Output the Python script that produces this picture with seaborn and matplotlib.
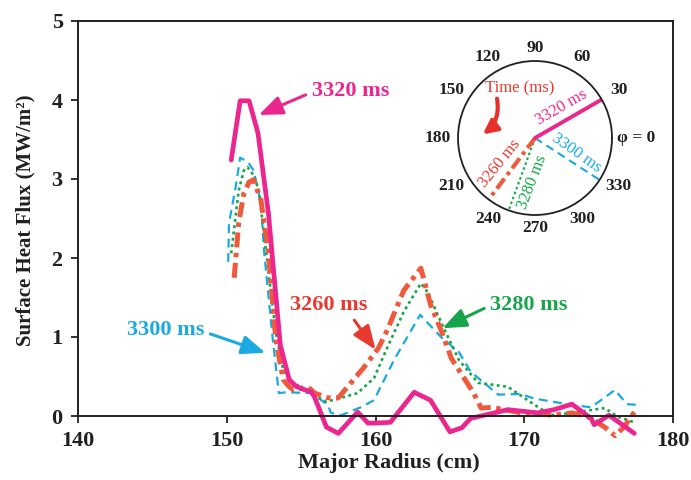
# Surface heat flux vs major radius, four time slices + toroidal-angle inset
import numpy as np
import pandas as pd
import matplotlib
matplotlib.use('Agg')
import matplotlib.pyplot as plt
import seaborn as sns

sns.set_theme(style='ticks')
plt.rcParams['font.family'] = ['Liberation Serif', 'DejaVu Serif']

# 3320 ms (solid magenta)
r_3320 = [150.3, 150.9, 151.5, 152.1, 152.8, 153.6, 154.2, 154.7, 155.7, 155.9, 156.7, 157.5,
          158.8, 159.5, 159.9, 161.0, 162.6, 163.7, 165.0, 165.8, 166.4, 168.9, 170.9, 172.0,
          173.2, 174.5, 174.7, 175.7, 177.4]
q_3320 = [3.24, 3.99, 3.99, 3.58, 2.57, 0.90, 0.46, 0.37, 0.30, 0.24, -0.14, -0.22,
          0.05, -0.09, -0.09, -0.08, 0.30, 0.20, -0.20, -0.15, -0.03, 0.08, 0.04, 0.08,
          0.15, -0.03, -0.11, 0.01, -0.22]

# 3300 ms (dashed blue)
r_3300 = [150.1, 150.15, 150.6, 150.9, 151.4, 151.8, 152.3, 152.5, 153.1, 153.5, 154.0, 155.7,
          156.8, 157.0, 157.7, 159.0, 159.9, 161.25, 163.0, 164.4, 165.6, 166.4, 168.25, 169.7,
          170.7, 173.2, 174.5, 176.1, 176.9, 177.7]
q_3300 = [1.95, 2.44, 2.90, 3.27, 3.22, 3.11, 2.70, 2.10, 0.96, 0.29, 0.30, 0.29,
          0.14, 0.04, 0.01, 0.11, 0.20, 0.71, 1.28, 1.00, 0.81, 0.56, 0.27, 0.28,
          0.22, 0.14, 0.11, 0.33, 0.15, 0.14]

# 3280 ms (dotted green)
r_3280 = [150.3, 150.8, 151.15, 151.4, 151.8, 152.15, 153.3, 153.8, 154.4, 155.8, 156.7, 157.7,
          158.8, 159.9, 160.8, 161.9, 163.05, 163.5, 164.55, 165.6, 166.9, 168.9, 170.7, 171.8,
          173.2, 175.4, 176.3, 177.4]
q_3280 = [2.06, 2.85, 3.11, 3.15, 3.05, 2.86, 1.05, 0.58, 0.43, 0.27, 0.18, 0.23,
          0.29, 0.48, 0.87, 1.32, 1.68, 1.57, 1.13, 0.71, 0.42, 0.37, 0.14, 0.01,
          0.04, 0.10, -0.01, -0.08]

# 3260 ms (dash-dot red)
r_3260 = [150.5, 150.8, 151.15, 151.5, 151.8, 152.3, 152.8, 153.3, 153.8, 154.2, 154.5, 155.45,
          155.9, 156.8, 157.5, 158.35, 159.2, 160.2, 160.8, 161.9, 163.05, 163.7, 164.4, 165.1,
          165.75, 166.6, 167.1, 167.8, 169.8, 172.0, 173.2, 174.3, 175.4, 176.1, 176.7, 177.4]
q_3260 = [1.75, 2.44, 2.82, 2.96, 2.99, 2.73, 2.06, 0.96, 0.46, 0.37, 0.33, 0.37,
          0.29, 0.23, 0.23, 0.42, 0.61, 0.86, 1.09, 1.59, 1.87, 1.41, 1.09, 0.73,
          0.54, 0.29, 0.10, 0.11, 0.04, 0.01, 0.04, -0.01, -0.14, -0.25, -0.14, 0.05]

x_ticks = [140, 150, 160, 170, 180]
y_ticks = [0, 1, 2, 3, 4, 5]

# inset: toroidal angle of each time slice (deg)
phi_labels = [0, 30, 60, 90, 120, 150, 180, 210, 240, 270, 300, 330]
phi_3320, phi_3300, phi_3280, phi_3260 = 30, 327, 250, 233

MAGENTA = '#ec268f'
BLUE = '#1ba9e1'
GREEN = '#17a54b'
RED = '#ef5a3c'
RED_TXT = '#e8392f'
INK = '#231f20'

fig = plt.figure(figsize=(6.91, 4.80), dpi=100)
ax = fig.add_axes([78 / 691, 64 / 480, 595 / 691, 395 / 480])

sns.lineplot(x=r_3300, y=q_3300, ax=ax, sort=False, estimator=None, color=BLUE, lw=1.6,
             linestyle=(0, (4, 2.5)), clip_on=False)
sns.lineplot(x=r_3280, y=q_3280, ax=ax, sort=False, estimator=None, color=GREEN, lw=1.9,
             linestyle=(0, (1.1, 1.3)), clip_on=False)
sns.lineplot(x=r_3260, y=q_3260, ax=ax, sort=False, estimator=None, color=RED, lw=3.6,
             linestyle=(0, (3, 1.1, 0.9, 1.1)), clip_on=False)
sns.lineplot(x=r_3320, y=q_3320, ax=ax, sort=False, estimator=None, color=MAGENTA, lw=3.4,
             clip_on=False)

ax.set_xlim(140, 180)
ax.set_ylim(0, 5)
ax.set_xticks(x_ticks)
ax.set_yticks(y_ticks)
ax.tick_params(direction='out', length=5, width=1.3, labelsize=16, pad=6, colors=INK)
plt.setp(ax.get_xticklabels() + ax.get_yticklabels(), fontweight='bold')
for s in ax.spines.values():
    s.set_linewidth(1.4)
    s.set_color(INK)

ax.set_xlabel('Major Radius (cm)', fontsize=16, fontweight='bold', color=INK, va='center')
ax.xaxis.set_label_coords(0.522, -0.119)
ax.set_ylabel('Surface Heat Flux (MW/m²)', fontsize=15, fontweight='bold', color=INK, va='center')
ax.yaxis.set_label_coords(-0.088, 0.495)

def label(txt, xy, xytext, color, relpos):
    ax.annotate(txt, xy=xy, xytext=xytext, fontsize=16, fontweight='bold', color=color,
                ha='center', va='center',
                arrowprops=dict(arrowstyle='-|>,head_length=0.8,head_width=0.32', lw=2.2,
                                color=color, mutation_scale=18, relpos=relpos,
                                shrinkA=2, shrinkB=0))

label('3320 ms', (152.15, 3.81), (158.3, 4.11), MAGENTA, (0, 0.45))
label('3300 ms', (152.6, 0.80), (145.9, 1.09), BLUE, (1, 0.4))
label('3260 ms', (160.0, 0.84), (156.85, 1.41), RED_TXT, (0.78, 0))
label('3280 ms', (164.5, 1.11), (170.3, 1.41), GREEN, (0, 0.45))

# inset polar diagram
axp = fig.add_axes([458 / 691, 265 / 480, 154 / 691, 154 / 480], projection='polar')
axp.set_ylim(0, 1)
axp.set_xticks([])
axp.set_yticks([])
axp.grid(False)
axp.spines['polar'].set_linewidth(1.3)
axp.spines['polar'].set_color(INK)

def ray(phi, **kw):
    t = np.deg2rad(phi)
    axp.plot([t, t], [0, 1], **kw)

ray(phi_3300, color=BLUE, lw=1.5, linestyle=(0, (4, 2.5)))
ray(phi_3280, color=GREEN, lw=1.5, linestyle=(0, (1.2, 1.3)))
ray(phi_3260, color=RED, lw=3.0, linestyle=(0, (3, 1.1, 0.9, 1.1)))
ray(phi_3320, color=MAGENTA, lw=2.8)

for a in phi_labels:
    t = np.deg2rad(a)
    if a == 0:
        axp.text(t, 1.06, 'φ = 0', ha='left', va='center', fontsize=12.5,
                 fontweight='bold', color=INK)
    else:
        axp.text(t, 1.17 + 0.1 * abs(np.cos(t)), str(a), ha='center', va='center',
                 fontsize=12.5, fontweight='bold', color=INK)

def slice_text(txt, phi, r, rot, color):
    axp.text(np.deg2rad(phi), r, txt, rotation=rot, rotation_mode='anchor',
             ha='center', va='center', fontsize=12, color=color)

slice_text('3320 ms', 49, 0.53, 30, MAGENTA)
slice_text('3300 ms', 340, 0.57, -35, BLUE)
slice_text('3260 ms', 216, 0.57, 51, RED_TXT)
slice_text('3280 ms', 266, 0.57, 69, GREEN)

axp.text(np.deg2rad(107), 0.68, 'Time (ms)', ha='center', va='center', fontsize=12, color=RED_TXT)
axp.annotate('', xy=(np.deg2rad(176), 0.68), xytext=(np.deg2rad(134), 0.71),
             arrowprops=dict(arrowstyle='-|>,head_length=0.6,head_width=0.3', lw=3,
                             color='#e8302a', connectionstyle='arc3,rad=-0.3',
                             mutation_scale=14, shrinkA=0, shrinkB=0))

fig.savefig('out.png', dpi=100)
